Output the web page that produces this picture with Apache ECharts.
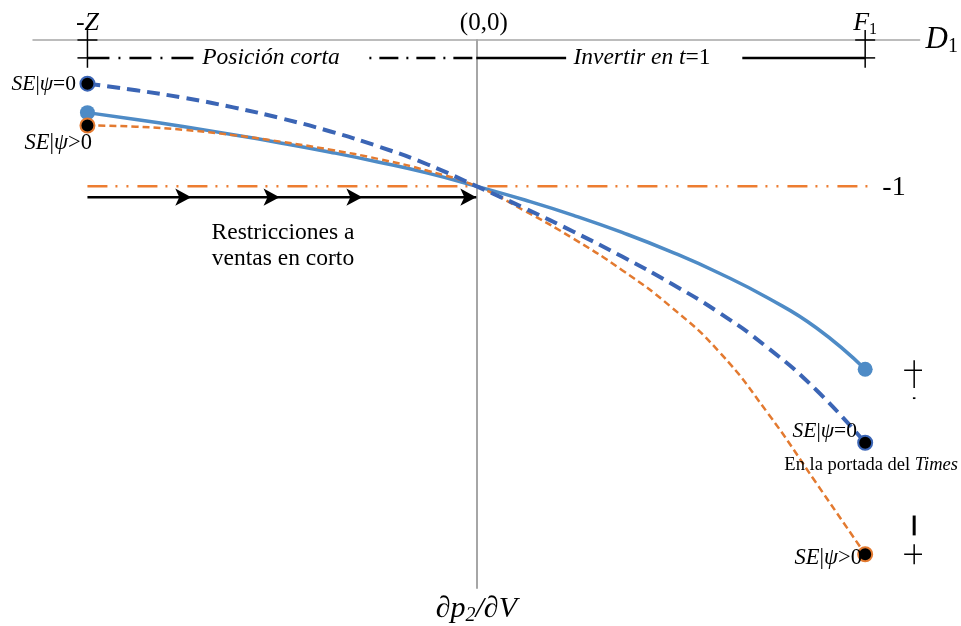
<!DOCTYPE html>
<html><head><meta charset="utf-8">
<script src="https://cdn.jsdelivr.net/npm/echarts@6/dist/echarts.min.js"></script>
<style>html,body{margin:0;padding:0;background:#fff}#c{width:961px;height:626px}</style>
</head><body><div id="c"></div>
<script>
// ---- data ----
const xPoints      = [-1, -0.875, -0.75, -0.625, -0.5, -0.375, -0.25, -0.125, 0,
                      0.125, 0.25, 0.375, 0.5, 0.625, 0.75, 0.875, 1];
const solidBlue    = [-0.497, -0.544, -0.594, -0.648, -0.706, -0.768, -0.836, -0.911, -1.000,
                      -1.095, -1.200, -1.317, -1.448, -1.596, -1.766, -1.971, -2.253];
const dashedBlue   = [-0.299, -0.344, -0.397, -0.461, -0.537, -0.626, -0.730, -0.852, -1.000,
                      -1.152, -1.312, -1.482, -1.665, -1.867, -2.107, -2.397, -2.756];
const dashedOrange = [-0.585, -0.593, -0.615, -0.651, -0.697, -0.751, -0.815, -0.895, -1.000,
                      -1.170, -1.360, -1.575, -1.825, -2.135, -2.555, -3.035, -3.519];
const tickValues = [-1, 0, 1];
const tickLabels = ['{m|-}{i|Z}', '{o|(0,0)}', '{i|F}{s|1}'];
const refLevel = -1;              // orange dash-dot-dot line
const refLineX = [-1, 1.023];
const posRowY = -0.1225;          // position strip under the axis
const posDashLeft = [-1, -0.712];
const posDashMid = [-0.275, 0];
const posSolidMid = [0, 0.231];
const posSolidRight = [0.684, 1];
const arrowRowY = -1.0755;
const arrowRowX = [-1, 0];
const arrowTips = [-0.733, -0.506, -0.293, 0];
const crossX = [-1, 1];
const crossHalfW = 0.0257;
const crossYTop = 0.068, crossYBot = -0.19;
const sideX = 1.126;
const sideDagger = {vTop: -2.192, vBot: -2.382, h: -2.260, dot: -2.451};
const sideBar = {top: -3.254, bot: -3.390};
const sidePlus = {vTop: -3.451, vBot: -3.587, h: -3.519};

// ---- styles ----
const FONT = 'Liberation Serif';
const cBlue = '#4e8bc6', cDBlue = '#3b65b5', cOrange = '#e37a30', cGray = '#a6a6a6';

function seg(points, color, width, type, z) {
  return {type: 'line', data: points, symbol: 'none', showSymbol: false, silent: true,
    clip: false, animation: false, z: z || 3,
    lineStyle: {color: color, width: width, type: type || 'solid', cap: 'butt'}};
}
const series = [];
const pairs = (ys) => xPoints.map((x, i) => [x, ys[i]]);
series.push({type: 'line', data: pairs(solidBlue), smooth: 0.5, symbol: 'none',
  lineStyle: {color: cBlue, width: 3.5}, z: 4, animation: false});
series.push({type: 'line', data: pairs(dashedOrange), smooth: 0.5, symbol: 'none',
  lineStyle: {color: cOrange, width: 2.5, type: [7, 4]}, z: 5, animation: false});
series.push({type: 'line', data: pairs(dashedBlue), smooth: 0.5, symbol: 'none',
  lineStyle: {color: cDBlue, width: 4, type: [13, 7]}, z: 6, animation: false});
const last = xPoints.length - 1;
const ends = (ys) => [[xPoints[0], ys[0]], [xPoints[last], ys[last]]];
series.push({type: 'scatter', data: ends(solidBlue), symbolSize: 15, itemStyle: {color: cBlue, opacity: 1}, z: 8, animation: false, silent: true});
series.push({type: 'scatter', data: ends(dashedBlue), symbolSize: 14, itemStyle: {color: '#000', borderColor: cDBlue, borderWidth: 2, opacity: 1}, z: 8, animation: false, silent: true});
series.push({type: 'scatter', data: ends(dashedOrange), symbolSize: 14, itemStyle: {color: '#000', borderColor: cOrange, borderWidth: 2, opacity: 1}, z: 8, animation: false, silent: true});
series.push(seg(refLineX.map(x => [x, refLevel]), '#ed7d31', 2.5, [20, 8, 2, 9, 2, 9], 3));
series.push(seg(arrowRowX.map(x => [x, arrowRowY]), '#000', 2.5, 'solid', 3));
series.push({type: 'scatter', data: arrowTips.map(x => [x, arrowRowY]), symbol: 'arrow', symbolSize: [13, 16],
  symbolRotate: -90, symbolOffset: [0, 0], itemStyle: {color: '#000', opacity: 1}, z: 7, animation: false, silent: true});
series.push(seg(posDashLeft.map(x => [x, posRowY]), '#000', 2.5, [22, 9, 2, 9], 3));
series.push(seg(posDashMid.map(x => [x, posRowY]), '#000', 2.5, [2, 8, 19, 8], 3));
series.push(seg(posSolidMid.map(x => [x, posRowY]), '#000', 2.5, 'solid', 3));
series.push(seg(posSolidRight.map(x => [x, posRowY]), '#000', 2.5, 'solid', 3));
crossX.forEach(x => {
  series.push(seg([[x, crossYTop], [x, crossYBot]], '#000', 1.5, 'solid', 4));
  series.push(seg([[x - crossHalfW, 0], [x + crossHalfW, 0]], '#000', 1.5, 'solid', 4));
  series.push(seg([[x - crossHalfW, posRowY], [x + crossHalfW, posRowY]], '#000', 1.5, 'solid', 4));
});
series.push(seg([[sideX, sideDagger.vTop], [sideX, sideDagger.vBot]], '#000', 1.5));
series.push(seg([[sideX - crossHalfW, sideDagger.h], [sideX + crossHalfW, sideDagger.h]], '#000', 1.5));
series.push(seg([[sideX, sideDagger.dot + 0.006], [sideX, sideDagger.dot - 0.006]], '#000', 2.5));
series.push(seg([[sideX, sideBar.top], [sideX, sideBar.bot]], '#000', 3));
series.push(seg([[sideX, sidePlus.vTop], [sideX, sidePlus.vBot]], '#000', 1.5));
series.push(seg([[sideX - crossHalfW, sidePlus.h], [sideX + crossHalfW, sidePlus.h]], '#000', 1.5));

function rs(size, italic, extra) {
  return Object.assign({fontFamily: FONT, fontSize: size, fontStyle: italic ? 'italic' : 'normal', color: '#000'}, extra || {});
}
const seRich = (size) => ({i: rs(size, true), n: rs(size, false)});
function txt(x, y, text, align, rich) {
  return {type: 'text', x: x, y: y, silent: true, z: 100,
    style: {text: text, align: align, verticalAlign: 'middle', rich: rich, fill: '#000', font: '20px ' + FONT}};
}

const option = {
  animation: false,
  backgroundColor: '#fff',
  grid: {left: 33, right: 40, top: 40, bottom: 35, containLabel: false},
  xAxis: {
    type: 'value', min: -1.14, max: 1.14, position: 'top',
    axisLine: {onZero: false, lineStyle: {color: cGray, width: 1.5}},
    axisTick: {show: false}, splitLine: {show: false},
    axisLabel: {customValues: tickValues, margin: 2,
      formatter: (v) => tickLabels[tickValues.indexOf(v)] || '',
      rich: {m: rs(26, false, {lineHeight: 30}), o: rs(25, false, {lineHeight: 30, padding: [0, 0, 0, 15]}),
             i: rs(26, true, {lineHeight: 30}), s: rs(16, false, {verticalAlign: 'bottom', lineHeight: 12})}},
    name: '{i|D}{s|1}', nameLocation: 'end', nameGap: 6,
    nameTextStyle: {rich: {i: rs(31, true, {lineHeight: 34}), s: rs(20, false, {verticalAlign: 'bottom', lineHeight: 16})}}
  },
  yAxis: {
    type: 'value', min: -3.75, max: 0,
    axisLine: {show: true, onZero: true, lineStyle: {color: cGray, width: 2}},
    axisTick: {show: false}, axisLabel: {show: false}, splitLine: {show: false},
    name: '{i|∂p}{s|2}{i|/∂V}', nameLocation: 'start', nameGap: 4,
    nameTextStyle: {rich: {i: rs(30, true, {lineHeight: 34}), s: rs(20, true, {verticalAlign: 'bottom', lineHeight: 15})}}
  },
  series: series,
  graphic: [
    txt(76, 84, '{i|SE}{n||}{i|ψ}{n|=0}', 'right', seRich(21.5)),
    txt(92, 143, '{i|SE}{n||}{i|ψ}{n|>0}', 'right', seRich(22.5)),
    txt(857, 431, '{i|SE}{n||}{i|ψ}{n|=0}', 'right', seRich(21.5)),
    txt(862, 558, '{i|SE}{n||}{i|ψ}{n|>0}', 'right', seRich(22.5)),
    txt(958, 465, '{n|En la portada del }{i|Times}', 'right', seRich(18.5)),
    txt(271, 58, '{i|Posición corta}', 'center', seRich(23.5)),
    txt(642, 58, '{i|Invertir en t}{n|=1}', 'center', seRich(23.5)),
    txt(283, 233, '{n|Restricciones a}', 'center', seRich(23.5)),
    txt(283, 259, '{n|ventas en corto}', 'center', seRich(23.5)),
    txt(894, 188, '{n|-1}', 'center', seRich(28))
  ]
};
const chart = echarts.init(document.getElementById('c'), null, {renderer: 'canvas'});
chart.setOption(option);
</script></body></html>
